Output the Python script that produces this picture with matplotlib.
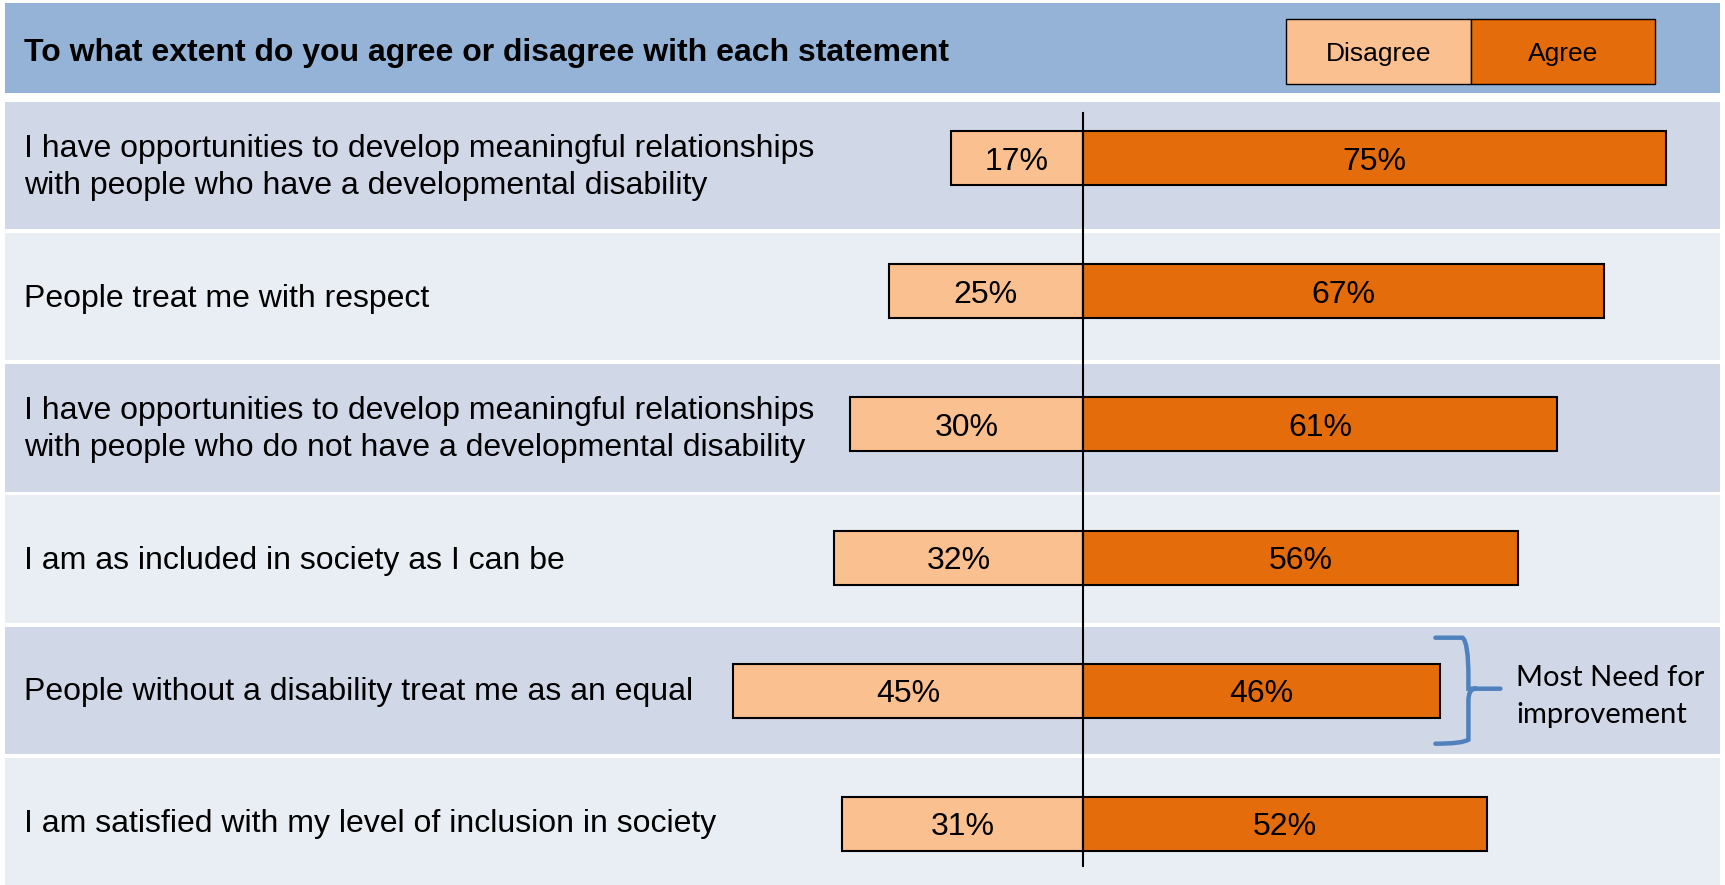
import numpy as np
import matplotlib.pyplot as plt
import matplotlib.transforms as mtransforms
from matplotlib.patches import Rectangle, PathPatch
from matplotlib.path import Path

# survey data
statements = [
    "I have opportunities to develop meaningful relationships\nwith people who have a developmental disability",
    "People treat me with respect",
    "I have opportunities to develop meaningful relationships\nwith people who do not have a developmental disability",
    "I am as included in society as I can be",
    "People without a disability treat me as an equal",
    "I am satisfied with my level of inclusion in society",
]
disagree = [17, 25, 30, 32, 45, 31]
agree = [75, 67, 61, 56, 46, 52]
title = "To what extent do you agree or disagree with each statement"
legend_labels = ["Disagree", "Agree"]
note = "Most Need for\nimprovement"
note_row = 4

c_dis, c_agr = '#FAC090', '#E46C0A'

W, H = 1725, 885
fig = plt.figure(figsize=(W / 100, H / 100), dpi=100)

# pixel transform (origin top-left) for the table decorations
pix = mtransforms.Affine2D().scale(1 / W, -1 / H).translate(0, 1) + fig.transFigure

label_font = ['Liberation Sans', 'DejaVu Sans']

# table background: header band + alternating rows
row_top, row_pitch, row_h = 101.7, 131.25, 127.5
fig.patches.append(Rectangle((5, 3), 1715, 90, transform=pix, facecolor='#95B3D7',
                             edgecolor='none', zorder=0))
fig.text(24, 53, title, transform=pix, fontsize=23, fontweight='bold',
         family=label_font, va='center', ha='left')
for i, s in enumerate(statements):
    top = row_top + i * row_pitch
    col = '#D0D8E8' if i % 2 == 0 else '#E9EDF4'
    fig.patches.append(Rectangle((5, top), 1715, row_h, transform=pix, facecolor=col,
                                 edgecolor='none', zorder=0))
    fig.text(24, top + row_h / 2 + 2, s, transform=pix, ha='left', va='center', fontsize=23,
             family=label_font, linespacing=1.3)

# legend boxes
leg_x = [1286, 1471, 1655]
for k, (lab, col) in enumerate(zip(legend_labels, [c_dis, c_agr])):
    xa, xb = leg_x[k], leg_x[k + 1]
    fig.patches.append(Rectangle((xa, 19), xb - xa, 65, transform=pix, facecolor=col,
                                 edgecolor='black', lw=1.0, zorder=2))
    fig.text((xa + xb) / 2, 54, lab, transform=pix, fontsize=19, family=label_font,
             ha='center', va='center', zorder=3)

# bar chart axes: centre line at px 1083, 7.77 px per percent; bars 133.1 px apart
ax = fig.add_axes([0, 0, 1, 1])
ax.set_zorder(2)
ax.set_axis_off()
ax.patch.set_alpha(0)
x0, ppu = 1083, 7.77
y0, pitch = 158.3, 133.1
ax.set_xlim(-x0 / ppu, (W - x0) / ppu)
ax.set_ylim((H - y0) / pitch, -y0 / pitch)

rows = np.arange(len(statements))
bh = 54 / pitch
ax.barh(rows, [-d for d in disagree], height=bh, color=c_dis, edgecolor='black', lw=1.5, zorder=2)
ax.barh(rows, agree, height=bh, color=c_agr, edgecolor='black', lw=1.5, zorder=2)

for r, d, a in zip(rows, disagree, agree):
    ax.text(-d / 2, r + 0.025, f"{d}%", ha='center', va='center', fontsize=23,
            family=label_font, zorder=3)
    ax.text(a / 2, r + 0.025, f"{a}%", ha='center', va='center', fontsize=23,
            family=label_font, zorder=3)

# centre line
ax.plot([0, 0], [(113 - y0) / pitch, (866 - y0) / pitch], color='black', lw=1.5, zorder=4)

# bracket next to the weakest row
by = y0 + note_row * pitch
bx = x0 + agree[note_row] * ppu
verts = [(bx - 5, by - 53), (bx + 22, by - 53), (bx + 28, by - 49), (bx + 28, by - 14),
         (bx + 28, by - 2), (bx + 35, by - 2), (bx + 60, by - 2),
         (bx + 35, by - 2), (bx + 28, by - 2), (bx + 28, by + 10),
         (bx + 28, by + 49), (bx + 22, by + 53), (bx - 5, by + 53)]
codes = [Path.MOVETO, Path.LINETO, Path.CURVE3, Path.CURVE3, Path.LINETO,
         Path.CURVE3, Path.CURVE3, Path.MOVETO, Path.CURVE3, Path.CURVE3,
         Path.LINETO, Path.CURVE3, Path.CURVE3]
fig.patches.append(PathPatch(Path(verts, codes), transform=pix, facecolor='none',
                             edgecolor='#4F81BD', lw=3.2, capstyle='round', zorder=3))
fig.text(bx + 76, by + 6, note, transform=pix, fontsize=21, family=['Lato', 'DejaVu Sans'],
         ha='left', va='center', linespacing=1.5)

fig.savefig('out.png', dpi=100)
